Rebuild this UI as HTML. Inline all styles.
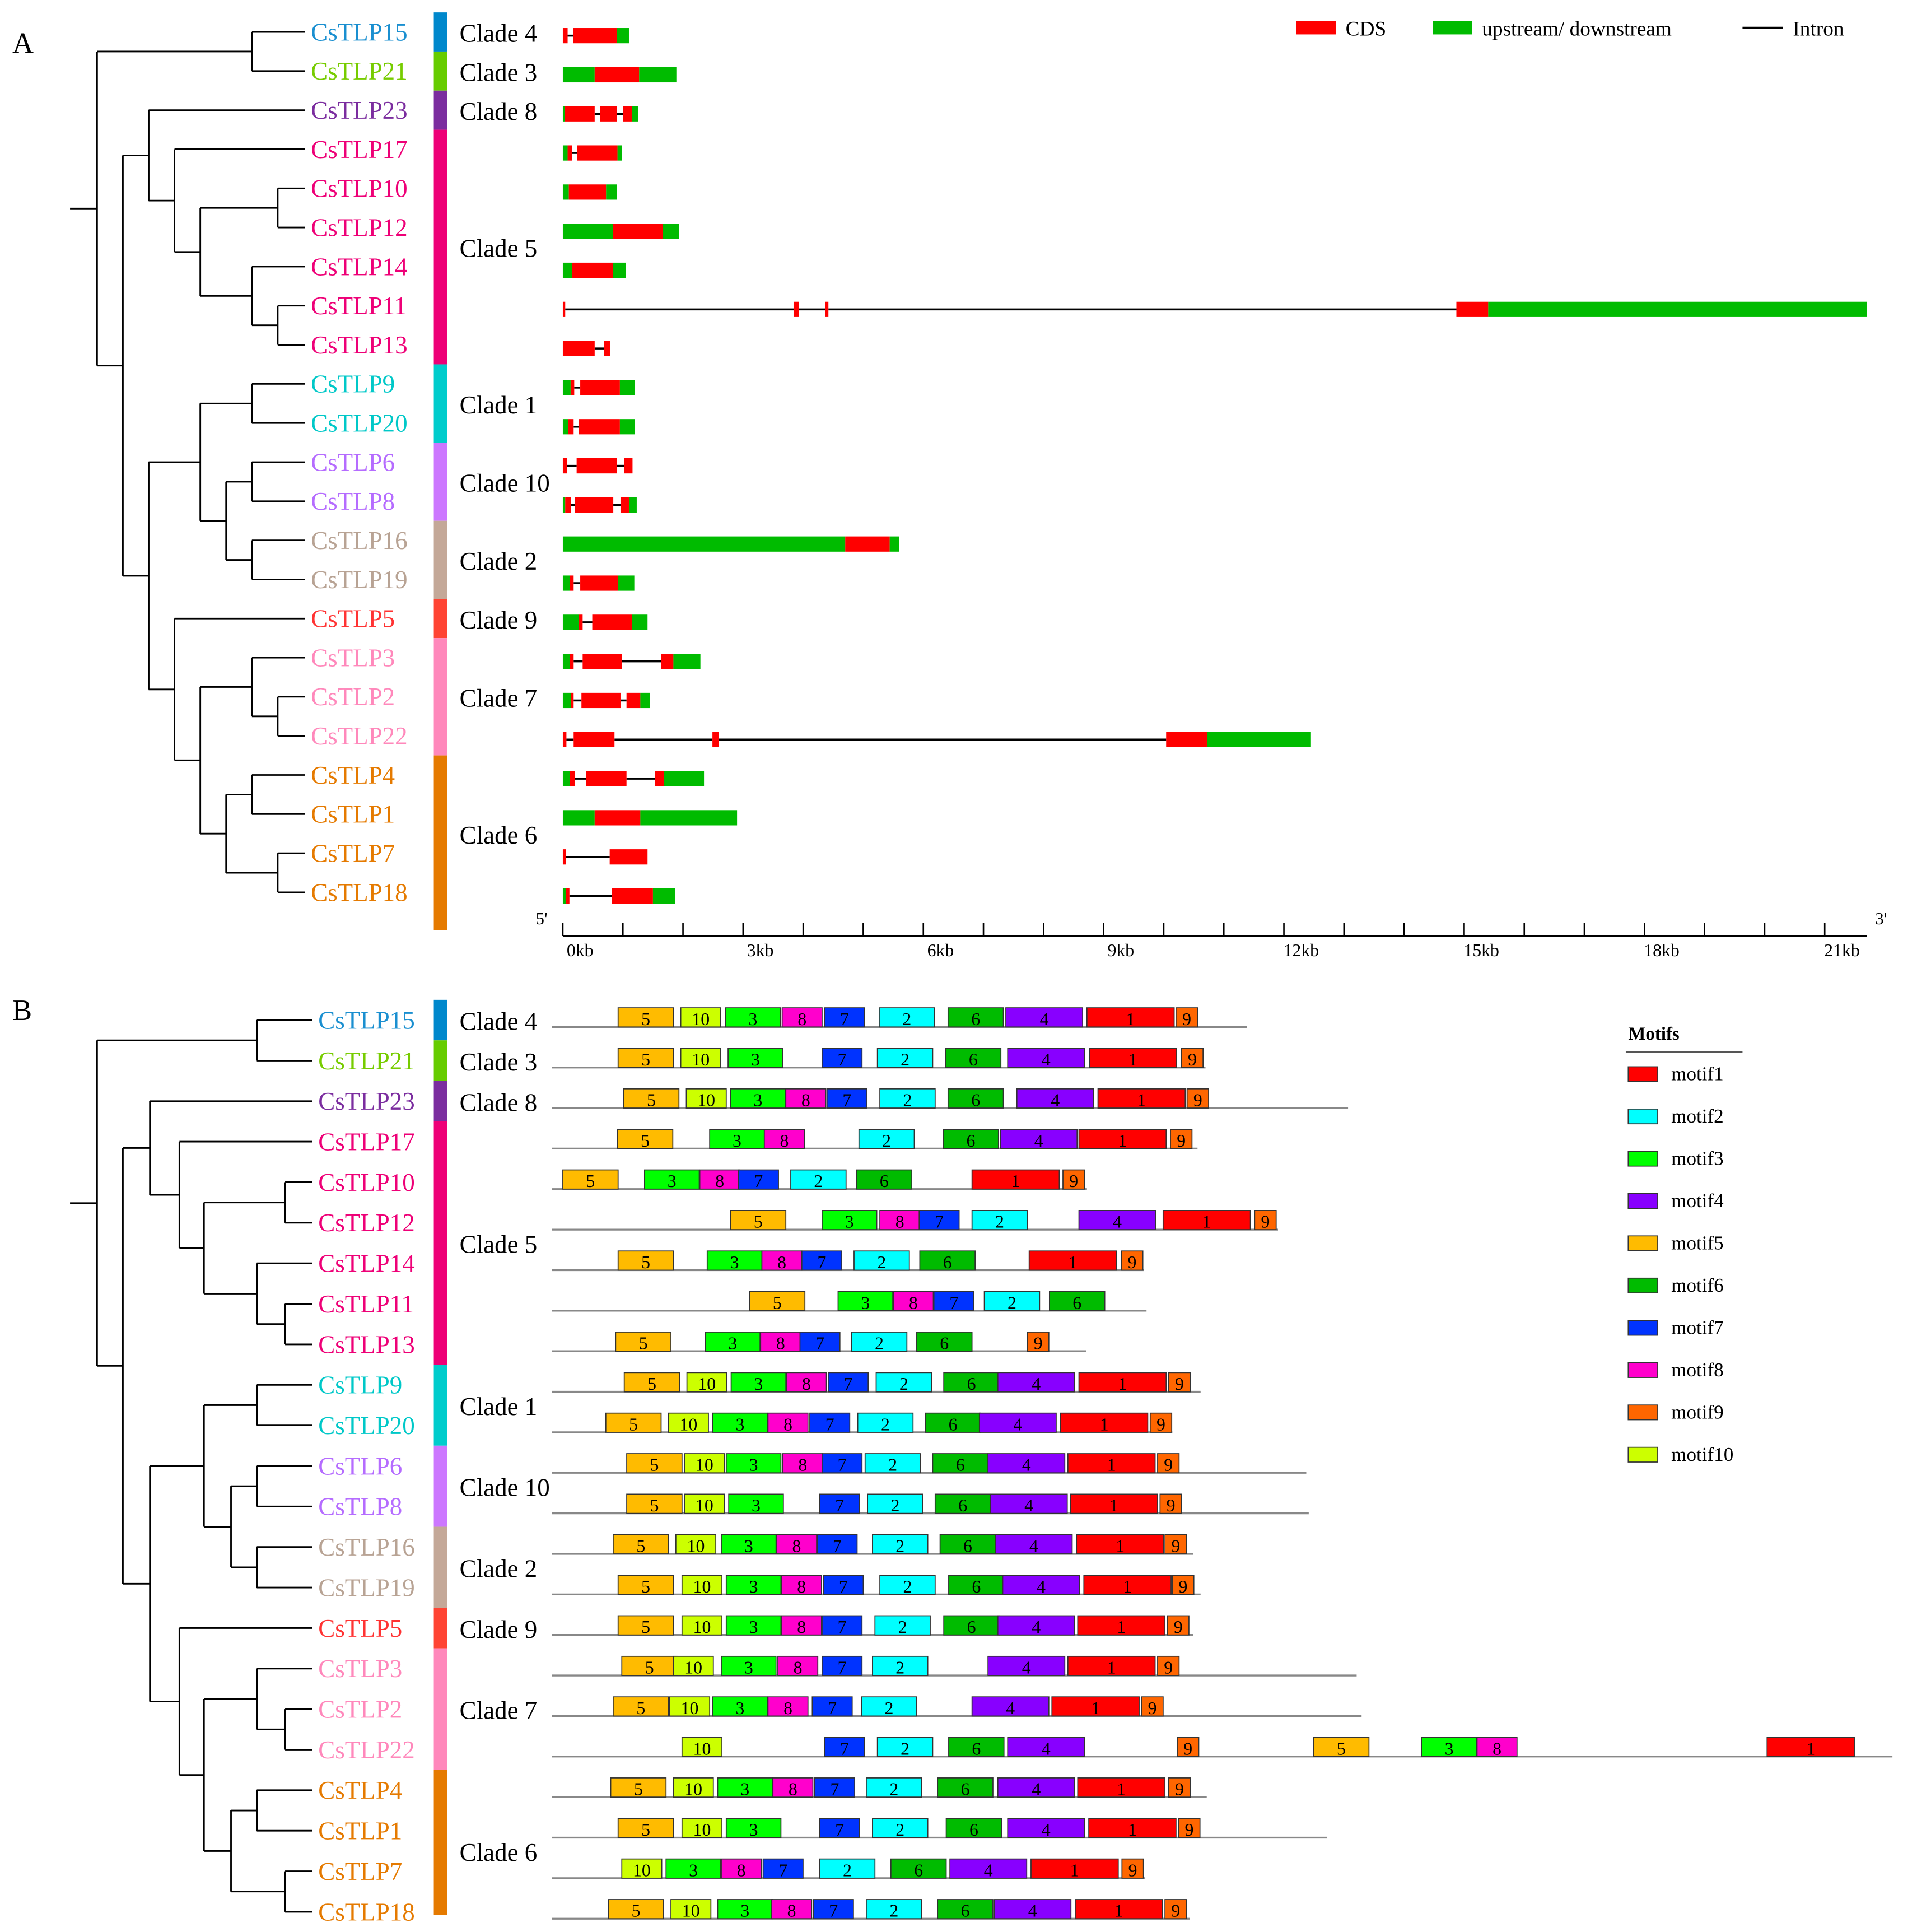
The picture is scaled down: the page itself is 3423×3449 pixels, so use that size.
<!DOCTYPE html>
<html><head><meta charset="utf-8"><style>html,body{margin:0;padding:0;background:#fff}svg{display:block}text{font-family:"Liberation Serif",serif}</style></head>
<body>
<svg id="fig" width="3423" height="3449" viewBox="0 0 1560 1572" preserveAspectRatio="none" xmlns="http://www.w3.org/2000/svg">
<rect x="0" y="0" width="1560" height="1572" fill="#fff"/>
<text x="10" y="43" font-size="24">A</text>
<text x="10" y="830" font-size="24">B</text>
<g id="legA">
<rect x="1055" y="17" width="32" height="11" fill="#ff0000"/>
<text x="1095" y="29" font-size="17">CDS</text>
<rect x="1166" y="17" width="32" height="11" fill="#00bb00"/>
<text x="1206" y="29" font-size="17">upstream/ downstream</text>
<line x1="1418" y1="22.5" x2="1451" y2="22.5" stroke="#000" stroke-width="1.5"/>
<text x="1459" y="29" font-size="17">Intron</text>
</g>
<g id="legB">
<text x="1325" y="846" font-size="15" font-weight="bold">Motifs</text>
<line x1="1323" y1="856" x2="1418" y2="856" stroke="#555" stroke-width="1"/>
</g>
<g id="treeA"></g><g id="treeB"></g><g id="labels"></g><g id="genes"></g><g id="axisA"></g><g id="motifs"></g>
</svg>
<script>
const genes = ['CsTLP15','CsTLP21','CsTLP23','CsTLP17','CsTLP10','CsTLP12','CsTLP14','CsTLP11','CsTLP13','CsTLP9','CsTLP20','CsTLP6','CsTLP8','CsTLP16','CsTLP19','CsTLP5','CsTLP3','CsTLP2','CsTLP22','CsTLP4','CsTLP1','CsTLP7','CsTLP18'];
const geneColors = ['#1a8fd0','#77cc00','#7b2d9f','#ee0077','#ee0077','#ee0077','#ee0077','#ee0077','#ee0077','#00c8c8','#00c8c8','#b56cff','#b56cff','#b8a394','#b8a394','#ff3333','#ff88bb','#ff88bb','#ff88bb','#e57a00','#e57a00','#e57a00','#e57a00'];
const clades = ['Clade 4','Clade 3','Clade 8','Clade 5','Clade 1','Clade 10','Clade 2','Clade 9','Clade 7','Clade 6'];
const cladeStart = [0,1,2,3,9,11,13,15,16,19];
const cladeEnd = [0,1,2,8,10,12,14,15,18,22];
const cladeColors = ['#0088cc','#66cc00','#7b2d9f','#ee0077','#00cccc','#cc77ff','#c4a898','#ff4433','#ff88bb','#e57a00'];
const tree = [1,[7,0,1],[2,[3,2,[4,3,[5,[8,4,5],[7,6,[8,7,8]]]]],[3,[5,[7,9,10],[6,[7,11,12],[7,13,14]]],[4,15,[5,[7,16,[8,17,18]],[6,[7,19,20],[8,21,22]]]]]]];
const levelsA = [57,79,100,121,142,163,184,205,226,248];
const levelsB = [57,79,100,122,146,166,188,209,232,254];
const geneSegs = [
[['c',0,0.08],['i',0.08,0.17],['c',0.17,0.9],['u',0.9,1.1]],
[['u',0,0.53],['c',0.53,1.27],['u',1.27,1.89]],
[['u',0,0.03],['c',0.03,0.53],['i',0.53,0.62],['c',0.62,0.9],['i',0.9,1.0],['c',1.0,1.15],['u',1.15,1.25]],
[['u',0,0.08],['c',0.08,0.15],['i',0.15,0.24],['c',0.24,0.91],['u',0.91,0.98]],
[['u',0,0.1],['c',0.1,0.72],['u',0.72,0.9]],
[['u',0,0.83],['c',0.83,1.66],['u',1.66,1.93]],
[['u',0,0.15],['c',0.15,0.83],['u',0.83,1.05]],
[['c',0,0.04],['i',0.04,3.84],['c',3.84,3.93],['i',3.93,4.37],['c',4.37,4.42],['i',4.42,14.87],['c',14.87,15.4],['u',15.4,21.7]],
[['c',0,0.53],['i',0.53,0.69],['c',0.69,0.79]],
[['u',0,0.13],['c',0.13,0.19],['i',0.19,0.29],['c',0.29,0.95],['u',0.95,1.2]],
[['u',0,0.09],['c',0.09,0.18],['i',0.18,0.27],['c',0.27,0.95],['u',0.95,1.2]],
[['c',0,0.07],['i',0.07,0.23],['c',0.23,0.9],['i',0.9,1.02],['c',1.02,1.16]],
[['u',0,0.04],['c',0.04,0.14],['i',0.14,0.2],['c',0.2,0.84],['i',0.84,0.96],['c',0.96,1.1],['u',1.1,1.23]],
[['u',0,4.7],['c',4.7,5.44],['u',5.44,5.6]],
[['u',0,0.12],['c',0.12,0.18],['i',0.18,0.29],['c',0.29,0.92],['u',0.92,1.19]],
[['u',0,0.27],['c',0.27,0.33],['i',0.33,0.49],['c',0.49,1.15],['u',1.15,1.41]],
[['u',0,0.12],['c',0.12,0.18],['i',0.18,0.33],['c',0.33,0.98],['i',0.98,1.64],['c',1.64,1.84],['u',1.84,2.29]],
[['u',0,0.14],['c',0.14,0.18],['i',0.18,0.31],['c',0.31,0.96],['i',0.96,1.06],['c',1.06,1.29],['u',1.29,1.45]],
[['c',0,0.06],['i',0.06,0.18],['c',0.18,0.86],['i',0.86,2.49],['c',2.49,2.6],['i',2.6,10.04],['c',10.04,10.72],['u',10.72,12.45]],
[['u',0,0.12],['c',0.12,0.2],['i',0.2,0.39],['c',0.39,1.06],['i',1.06,1.53],['c',1.53,1.68],['u',1.68,2.35]],
[['u',0,0.53],['c',0.53,1.29],['u',1.29,2.9]],
[['c',0,0.05],['i',0.05,0.78],['c',0.78,1.41]],
[['u',0,0.05],['c',0.05,0.11],['i',0.11,0.82],['c',0.82,1.5],['u',1.5,1.87]]
];
const kbTicks = [0,1,2,3,4,5,6,7,8,9,10,11,12,13,14,15,16,17,18,19,20,21];
const kbLabels = ['0kb','3kb','6kb','9kb','12kb','15kb','18kb','21kb'];
const kbLabelVals = [0,3,6,9,12,15,18,21];
const motifNames = ['motif1','motif2','motif3','motif4','motif5','motif6','motif7','motif8','motif9','motif10'];
const motifColors = ['#ff0000','#00ffff','#00ff00','#8800ff','#ffbb00','#00bb00','#0033ff','#ff00cc','#ff6600','#ccff00'];
const motifLen = [142,90,89,125,90,90,65,65,35,65];
const proteinLen = [1131,1064,1296,1051,871,1182,964,968,870,1056,1010,1228,1232,1044,1056,1044,1310,1318,2182,1066,1262,966,1038];
const motifHits = [
[[5,108],[10,210],[3,283],[8,375],[7,444],[2,533],[6,645],[4,739],[1,871],[9,1016]],
[[5,108],[10,210],[3,287],[7,440],[2,530],[6,641],[4,742],[1,875],[9,1025]],
[[5,117],[10,219],[3,291],[8,381],[7,448],[2,534],[6,645],[4,757],[1,889],[9,1034]],
[[5,107],[3,257],[8,346],[2,500],[6,637],[4,730],[1,858],[9,1007]],
[[5,18],[3,151],[8,241],[7,304],[2,389],[6,496],[1,684],[9,832]],
[[5,291],[3,440],[8,534],[7,598],[2,684],[4,858],[1,995],[9,1144]],
[[5,108],[3,253],[8,342],[7,407],[2,492],[6,599],[1,777],[9,927]],
[[5,322],[3,466],[8,556],[7,622],[2,704],[6,810]],
[[5,104],[3,250],[8,340],[7,404],[2,488],[6,594],[9,774]],
[[5,118],[10,220],[3,292],[8,382],[7,450],[2,528],[6,638],[4,726],[1,858],[9,1004]],
[[5,88],[10,190],[3,262],[8,352],[7,420],[2,498],[6,608],[4,696],[1,828],[9,974]],
[[5,122],[10,216],[3,284],[8,376],[7,440],[2,510],[6,620],[4,710],[1,840],[9,986]],
[[5,122],[10,216],[3,288],[7,436],[2,514],[6,624],[4,714],[1,844],[9,990]],
[[5,100],[10,202],[3,276],[8,366],[7,432],[2,522],[6,632],[4,722],[1,854],[9,998]],
[[5,108],[10,212],[3,284],[8,374],[7,442],[2,534],[6,646],[4,734],[1,866],[9,1010]],
[[5,108],[10,212],[3,284],[8,374],[7,440],[2,526],[6,638],[4,726],[1,856],[9,1002]],
[[5,114],[10,198],[3,276],[8,368],[7,440],[2,522],[4,710],[1,840],[9,986]],
[[5,100],[10,192],[3,262],[8,352],[7,424],[2,504],[4,684],[1,814],[9,960]],
[[10,212],[7,444],[2,530],[6,646],[4,742],[9,1018],[5,1240],[3,1416],[8,1506],[1,1978]],
[[5,96],[10,198],[3,270],[8,360],[7,428],[2,512],[6,628],[4,726],[1,856],[9,1004]],
[[5,108],[10,212],[3,284],[7,436],[2,522],[6,642],[4,742],[1,874],[9,1020]],
[[10,114],[3,186],[8,276],[7,344],[2,436],[6,552],[4,648],[1,780],[9,928]],
[[5,92],[10,194],[3,270],[8,358],[7,426],[2,512],[6,628],[4,720],[1,852],[9,998]]
];

const NS='http://www.w3.org/2000/svg';
function mk(tag, attrs, parent){const e=document.createElementNS(NS,tag);for(const k in attrs)e.setAttribute(k,attrs[k]);parent.appendChild(e);return e;}
const rowA = i => 26 + i*31.82;
const rowB = i => 830 + i*32.98;
const xKb = kb => 458 + kb*48.9;
const xAa = aa => 449 + aa*0.5;

function drawTree(node, levels, rowF, g){
  if(typeof node==='number') return rowF(node);
  const x = levels[node[0]];
  const ys = [];
  for(let c=1;c<node.length;c++){
    const ch=node[c];
    const y = drawTree(ch, levels, rowF, g);
    const x2 = typeof ch==='number'? levels[9] : levels[ch[0]];
    const l=mk('line',{x1:x,y1:y,x2:x2,y2:y,stroke:'#000','stroke-width':1.3},g);
    
    
    ys.push(y);
  }
  const v=mk('line',{x1:x,y1:Math.min(...ys),x2:x,y2:Math.max(...ys),stroke:'#000','stroke-width':1.3},g);
  
  
  return (Math.min(...ys)+Math.max(...ys))/2;
}
function treeRoot(levels,rowF,gid){
  const g=document.getElementById(gid);
  const y=drawTree(tree,levels,rowF,g);
  const s=mk('line',{x1:levels[0],y1:y,x2:levels[1],y2:y,stroke:'#000','stroke-width':1.3},g);
  
  
}
treeRoot(levelsA,rowA,'treeA');
treeRoot(levelsB,rowB,'treeB');

const lab=document.getElementById('labels');
[[rowA,253,31.82,'a',757],[rowB,259,32.98,'b',1558]].forEach(([rf,lx,sp,p,bottom])=>{
  genes.forEach((gname,i)=>{
    const t=mk('text',{x:lx,y:rf(i)+7,'font-size':20.5,fill:geneColors[i]},lab);
    t.textContent=gname;
    
    
  });
  clades.forEach((c,k)=>{
    const y0=rf(cladeStart[k])-sp/2;
    const y1= k===clades.length-1 ? bottom : rf(cladeEnd[k])+sp/2;
    const r=mk('rect',{x:353,y:y0,width:11,height:y1-y0,fill:cladeColors[k]},lab);
    
    
    const yc = (rf(cladeStart[k])+rf(cladeEnd[k]))/2;
    const t=mk('text',{x:374,y:yc+8,'font-size':20.5,fill:'#000'},lab);
    t.textContent=c;
    
    
  });
});

const gg=document.getElementById('genes');
geneSegs.forEach((segs,i)=>{
  const yc=rowA(i)+3;
  segs.filter(s=>s[0]==='i').forEach(s=>{
    const l=mk('line',{x1:xKb(s[1]),y1:yc,x2:xKb(s[2]),y2:yc,stroke:'#000','stroke-width':1.6},gg);
    
    
  });
  segs.filter(s=>s[0]!=='i').forEach(s=>{
    const r=mk('rect',{x:xKb(s[1]),y:yc-6.2,width:Math.max(1.2,xKb(s[2])-xKb(s[1])),height:12.4,fill:s[0]==='c'?'#ff0000':'#00bb00'},gg);
    
    
  });
});

const ax=document.getElementById('axisA');
const axl=mk('line',{x1:xKb(0),y1:761.6,x2:1519,y2:761.6,stroke:'#000','stroke-width':1.6},ax);


kbTicks.forEach(k=>{
  const t=mk('line',{x1:xKb(k),y1:751,x2:xKb(k),y2:761.6,stroke:'#000','stroke-width':1.2},ax);
  
  
});
kbLabels.forEach((s,j)=>{
  const t=mk('text',{x:xKb(kbLabelVals[j])+14,y:778,'font-size':14.5,'text-anchor':'middle'},ax);
  t.textContent=s;
  
  
});
const p5=mk('text',{x:436,y:752,'font-size':14},ax);p5.textContent="5'";


const p3=mk('text',{x:1526,y:752,'font-size':14},ax);p3.textContent="3'";



const mg=document.getElementById('motifs');
motifHits.forEach((hits,i)=>{
  const y=rowB(i);
  const l=mk('line',{x1:xAa(0),y1:y+5.6,x2:xAa(proteinLen[i]),y2:y+5.6,stroke:'#888','stroke-width':1.5},mg);
  
  
  hits.forEach(([m,pos])=>{
    const r=mk('rect',{x:xAa(pos),y:y-10,width:motifLen[m-1]*0.5,height:15.6,fill:motifColors[m-1],stroke:'#333','stroke-width':0.8},mg);
    
    
    const t=mk('text',{x:xAa(pos)+motifLen[m-1]*0.25,y:y+4,'font-size':14.5,'text-anchor':'middle'},mg);
    t.textContent=String(m);
    
    
  });
});
const lg=document.getElementById('legB');
motifNames.forEach((n,k)=>{
  const y=874+k*34.4;
  const r=mk('rect',{x:1325,y:y-6,width:24,height:12,fill:motifColors[k],stroke:'#333','stroke-width':0.8},lg);
  
  
  const t=mk('text',{x:1360,y:y+5,'font-size':16},lg);
  t.textContent=n;
  
  
});
</script>
</body></html>
